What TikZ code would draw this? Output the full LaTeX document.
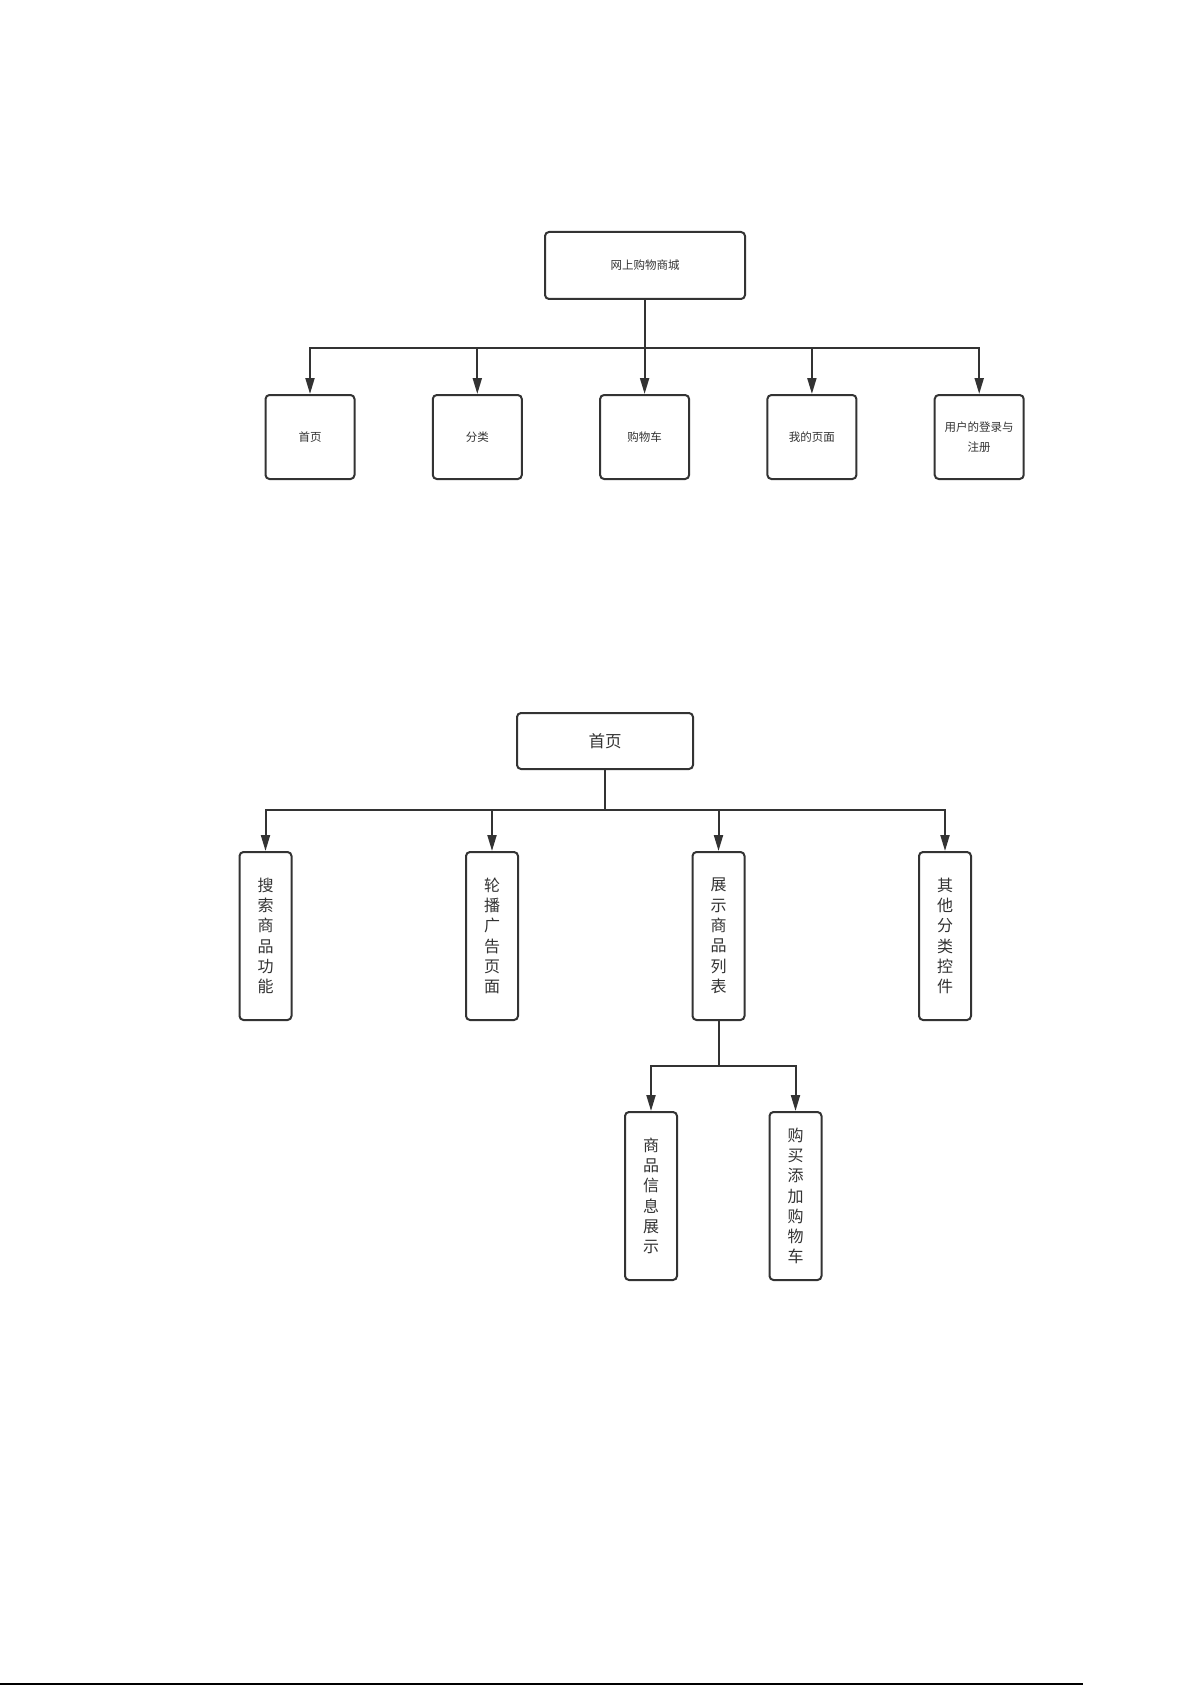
\documentclass[tikz,border=0pt]{standalone}
\usepackage{fontspec}
\newfontfamily\cjk{Noto Sans CJK SC}
\usetikzlibrary{arrows.meta, positioning}
\definecolor{ink}{HTML}{333333}
\tikzset{%
	box/.style={draw=ink, line width=2pt, rounded corners=4pt, fill=white,%
		inner sep=0pt, align=center, text=ink},
	rootbox/.style={box, minimum width=200pt, minimum height=67pt,%
		font=\cjk\fontsize{11.5}{20}\selectfont},
	page/.style={box, minimum width=89pt, minimum height=84pt,%
		font=\cjk\fontsize{11.5}{20}\selectfont},
	homebox/.style={box, minimum width=176pt, minimum height=56pt,%
		font=\cjk\fontsize{16.5}{20}\selectfont},
	vbox/.style={box, minimum width=52pt, minimum height=168pt,%
		font=\cjk\fontsize{16}{20.3}\selectfont},
	stem/.style={draw=ink, line width=2pt},
	link/.style={draw=ink, line width=2pt, -{Triangle[width=9pt,length=16pt]}}
}
\begin{document}
\begin{tikzpicture}[x=1pt, y=-1pt]
	\fill[white] (0,0) rectangle (1192,1685);
	\useasboundingbox (0,0) rectangle (1192,1685);

	% site map
	\node[rootbox] (mall) at (645,265.5) {网上购物商城};
	\coordinate (bus1) at (645,347.5);
	\node[page] (home) at (310,437) {首页};
	\node[page, right=76.3pt of home] (cat)  {分类};
	\node[page, right=76.3pt of cat]  (cart) {购物车};
	\node[page, right=76.3pt of cart] (mine) {我的页面};
	\node[page, right=76.3pt of mine] (user) {用户的登录与\\注册};

	\draw[stem, line width=1.2pt] (mall) -- (bus1);
	\foreach \n in {home, cat, cart, mine, user}
		\draw[link] (bus1) -| (\n.north);

	% home page
	\node[homebox] (home2) at (605,741) {首页};
	\coordinate (bus2) at (605,809.5);
	\node[vbox] (search) at (265.5,936) {搜\\索\\商\\品\\功\\能};
	\node[vbox, right=172.5pt of search] (banner) {轮\\播\\广\\告\\页\\面};
	\node[vbox, right=172.5pt of banner] (list)   {展\\示\\商\\品\\列\\表};
	\node[vbox, right=172.5pt of list]   (other)  {其\\他\\分\\类\\控\\件};

	\draw[stem] (home2) -- (bus2);
	\foreach \n in {search, banner, list, other}
		\draw[link] (bus2) -| (\n.north);

	% goods list
	\coordinate[below=45pt of list] (bus3);
	\node[vbox] (info) at (651,1196) {商\\品\\信\\息\\展\\示};
	\node[vbox, right=90.5pt of info] (buy) {购\\买\\添\\加\\购\\物\\车};

	\draw[stem] (list) -- (bus3);
	\draw[link] (bus3) -| (info.north);
	\draw[link] (bus3) -| (buy.north);

	% page rule
	\draw[line width=1.5pt, black] (0,1684) -- (1083,1684);
\end{tikzpicture}
\end{document}
